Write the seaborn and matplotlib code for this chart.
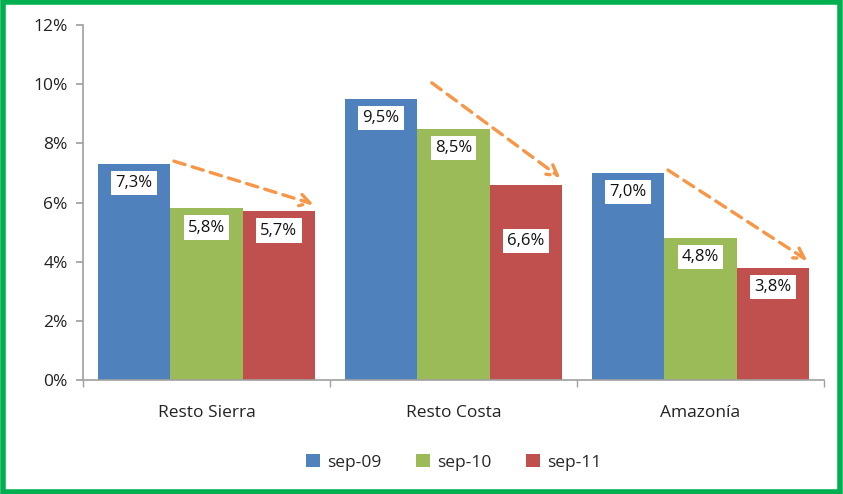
import matplotlib
matplotlib.use("Agg")
import matplotlib.pyplot as plt
import seaborn as sns
import pandas as pd
from matplotlib.patches import Rectangle
from matplotlib.ticker import FuncFormatter

# -------------------- DATOS --------------------
regiones = ["Resto Sierra", "Resto Costa", "Amazonía"]
periodos = ["sep-09", "sep-10", "sep-11"]
sep_09 = [7.3, 9.5, 7.0]
sep_10 = [5.8, 8.5, 4.8]
sep_11 = [5.7, 6.6, 3.8]
colores = ["#4F81BD", "#9BBB59", "#C0504D"]

df = pd.DataFrame({
    "region": regiones * 3,
    "periodo": [p for p in periodos for _ in regiones],
    "valor": sep_09 + sep_10 + sep_11,
})

# -------------------- GRAFICO --------------------
sns.set_theme(style="white")
plt.rcParams["font.family"] = ["Open Sans", "DejaVu Sans"]

fig = plt.figure(figsize=(8.43, 4.94), dpi=100)
ax = fig.add_axes([0.0985, 0.231, 0.879, 0.718])

sns.barplot(data=df, x="region", y="valor", hue="periodo",
            hue_order=periodos, palette=colores, width=0.88,
            saturation=1, ax=ax, legend=True, linewidth=0, edgecolor="none")

ax.set_ylim(0, 12)
ax.set_xlim(-0.5, 2.5)
ax.set_yticks(range(0, 13, 2))
ax.yaxis.set_major_formatter(FuncFormatter(lambda v, _: f"{v:.0f}%"))
ax.set_xlabel("")
ax.set_ylabel("")
ax.tick_params(axis="y", labelsize=12.5, colors="#222222", length=5,
               left=True, color="#A0A0A0", pad=6)
ax.tick_params(axis="x", labelsize=12.5, colors="#222222", length=0, pad=18)
ax.set_xticks([-0.5, 0.5, 1.5, 2.5], minor=True)
ax.tick_params(axis="x", which="minor", length=5, bottom=True,
               color="#A0A0A0")
for s in ["top", "right"]:
    ax.spines[s].set_visible(False)
for s in ["left", "bottom"]:
    ax.spines[s].set_color("#A0A0A0")
    ax.spines[s].set_linewidth(1.2)

# etiquetas de valores
for cont in ax.containers:
    for barra in cont:
        h = barra.get_height()
        cx = barra.get_x() + barra.get_width() / 2
        baja = 1.9 if (abs(h - 6.6) < 1e-9) else 0.65
        ax.text(cx, h - baja, f"{h:.1f}%".replace(".", ","),
                ha="center", va="center", fontsize=12, color="#111111",
                bbox=dict(boxstyle="square,pad=0.25", fc="white", ec="none"))

# flechas de tendencia
azul, rojo = ax.containers[0], ax.containers[2]
for b_ini, b_fin in zip(azul, rojo):
    x0 = b_ini.get_x() + b_ini.get_width() * 1.05
    y0 = b_ini.get_height() + 0.1
    x1 = b_fin.get_x() + b_fin.get_width() * 0.97
    y1 = b_fin.get_height() + 0.25
    if b_ini.get_height() > 9:
        x0 = b_ini.get_x() + b_ini.get_width() * 1.2
        y0 = b_ini.get_height() + 0.55
    ax.annotate("", xy=(x1, y1), xytext=(x0, y0),
                arrowprops=dict(arrowstyle="->,head_length=0.6,head_width=0.35",
                                color="#F79646", lw=2.4, linestyle=(0, (3.5, 2.2)),
                                shrinkA=0, shrinkB=0))

leg = ax.legend(loc="upper center", bbox_to_anchor=(0.5, -0.165), ncol=3,
                frameon=False, fontsize=12.5, handlelength=0.8, handleheight=0.8,
                columnspacing=2.0, handletextpad=0.4)

# marco verde
fig.patches.append(Rectangle((0.003, 0.005), 0.994, 0.99, transform=fig.transFigure,
                             fill=False, ec="#00B050", lw=4))

fig.savefig("out.png", dpi=100)
